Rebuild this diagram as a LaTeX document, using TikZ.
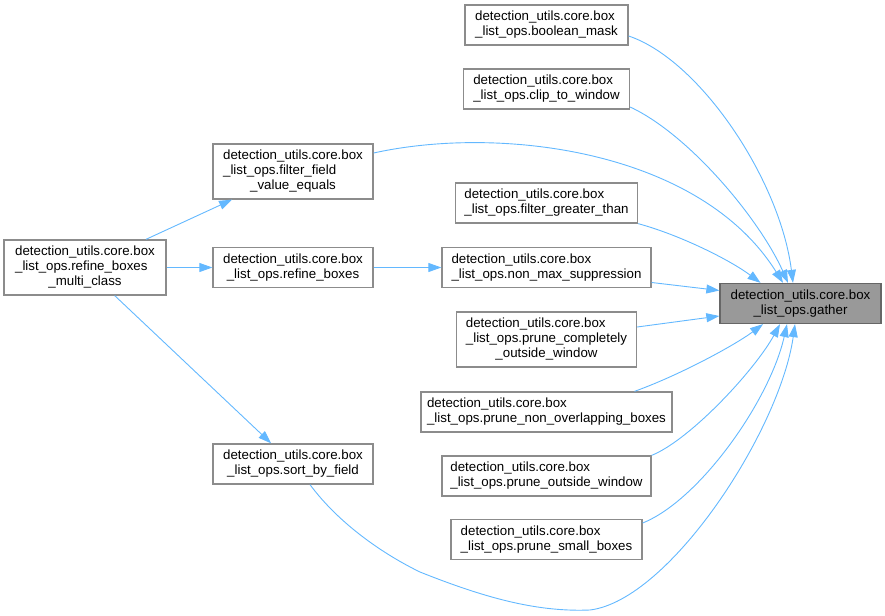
\documentclass[tikz,border=0pt]{standalone}
\usepackage{fontspec}
\setmainfont{Liberation Sans}
\usetikzlibrary{arrows.meta}
\definecolor{callblue}{HTML}{63B8FF}
\definecolor{frame}{HTML}{8C8C8C}
\definecolor{rootfill}{HTML}{999999}
\definecolor{rootframe}{HTML}{666666}
\newcommand{\fnlabel}[2]{\begin{tabular}{@{}l@{}}#1\\\multicolumn{1}{@{}c@{}}{#2}\end{tabular}}

\begin{document}
\begin{tikzpicture}[x=1pt,y=1pt,
          every node/.style={font=\fontsize{13.3}{15}\selectfont},
          fn/.style={rectangle,draw=frame,fill=white,line width=1.3pt,
              inner sep=0pt,minimum height=40pt},
          root/.style={fn,draw=rootframe,fill=rootfill},
          call/.style={draw=callblue,line width=0.9pt,
              -{Triangle[length=13pt,width=9pt]}}]
        \useasboundingbox (0,0) rectangle (885,-615);

        \node[fn,minimum width=162pt,minimum height=55pt] (rbmc) at (85,-267.5)
          {\fnlabel{detection\_utils.core.box\\\_list\_ops.refine\_boxes}{\_multi\_class}};
        \node[fn,minimum width=160pt,minimum height=55pt] (ffve) at (293,-171.5)
          {\fnlabel{detection\_utils.core.box\\\_list\_ops.filter\_field}{\_value\_equals}};
        \node[fn,minimum width=160pt] (rb) at (293,-267.5)
          {\fnlabel{detection\_utils.core.box}{\_list\_ops.refine\_boxes}};
        \node[fn,minimum width=160pt] (sbf) at (293,-464)
          {\fnlabel{detection\_utils.core.box}{\_list\_ops.sort\_by\_field}};

        \node[fn,minimum width=163pt] (bm) at (546.5,-25)
          {\fnlabel{detection\_utils.core.box}{\_list\_ops.boolean\_mask}};
        \node[fn,minimum width=166pt] (ctw) at (546.5,-89)
          {\fnlabel{detection\_utils.core.box}{\_list\_ops.clip\_to\_window}};
        \node[fn,minimum width=182pt] (fgt) at (546.5,-203)
          {\fnlabel{detection\_utils.core.box}{\_list\_ops.filter\_greater\_than}};
        \node[fn,minimum width=209pt] (nms) at (546.5,-267.5)
          {\fnlabel{detection\_utils.core.box}{\_list\_ops.non\_max\_suppression}};
        \node[fn,minimum width=180pt,minimum height=55pt] (pcow) at (546.5,-339.5)
          {\fnlabel{detection\_utils.core.box\\\_list\_ops.prune\_completely}{\_outside\_window}};
        \node[fn,minimum width=251pt] (pnob) at (546.5,-412)
          {\fnlabel{detection\_utils.core.box}{\_list\_ops.prune\_non\_overlapping\_boxes}};
        \node[fn,minimum width=209pt] (pow) at (546.5,-476)
          {\fnlabel{detection\_utils.core.box}{\_list\_ops.prune\_outside\_window}};
        \node[fn,minimum width=191pt] (psb) at (546.5,-539.5)
          {\fnlabel{detection\_utils.core.box}{\_list\_ops.prune\_small\_boxes}};

        \node[root,minimum width=161pt] (g) at (800.5,-303.5)
          {\fnlabel{detection\_utils.core.box}{\_list\_ops.gather}};

        % callers of refine_boxes_multi_class / refine_boxes
        \draw[call] (rbmc) -- (ffve);
        \draw[call] (rbmc) -- (rb);
        \draw[call] (rbmc) -- (sbf);
        \draw[call] (rb) -- (nms);

        % everything ends in gather
        \draw[call] ([yshift=-11pt]bm.east) .. controls (700,-60) and (780,-180)
          .. ([xshift=-7.5pt]g.north);
        \draw[call] ([yshift=-18pt]ctw.east) .. controls (690,-135) and (760,-220)
          .. ([xshift=-12.5pt]g.north);
        \draw[call] ([yshift=18.5pt]ffve.east) .. controls (500,-125) and (700,-150)
          .. ([xshift=-17.5pt]g.north);
        \draw[call] (fgt.south east) .. controls (680,-235) and (730,-260)
          .. ([xshift=-40pt]g.north);
        \draw[call] ([yshift=-15pt]nms.east) -- ([yshift=13pt]g.west);
        \draw[call] ([yshift=12.5pt]pcow.east) -- ([yshift=-12.5pt]g.west);
        \draw[call] ([xshift=88pt]pnob.north) .. controls (680,-375) and (735,-345)
          .. ([xshift=-37.5pt]g.south);
        \draw[call] (pow.north east) .. controls (690,-440) and (755,-370)
          .. ([xshift=-20.5pt]g.south);
        \draw[call] ([yshift=16.5pt]psb.east) .. controls (700,-500) and (770,-400)
          .. ([xshift=-13.5pt]g.south);
        \draw[call] ([xshift=17pt]sbf.south) .. controls (340,-525) and (385,-555)
          .. (420,-572) .. controls (490,-600) and (540,-612)
          .. (590,-610) .. controls (670,-600) and (780,-430)
          .. ([xshift=-5.5pt]g.south);
      \end{tikzpicture}
\end{document}
